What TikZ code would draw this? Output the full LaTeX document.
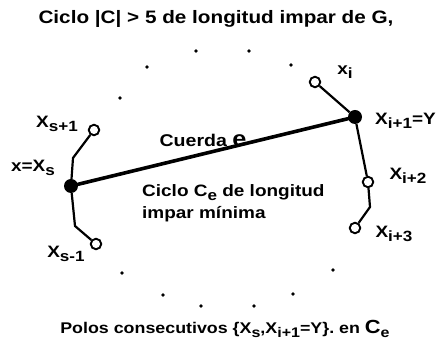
\documentclass[tikz,border=0pt]{standalone}
\usepackage{fontspec}
\setmainfont{Liberation Sans}[FakeStretch=1.15]
\usepackage{graphicx}
\usepackage{tikz}
\usetikzlibrary{positioning}
\newcommand{\idx}[1]{\raisebox{-0.45ex}{\scalebox{0.9}{#1}}}

\begin{document}
\begin{tikzpicture}[x=1pt,y=-1pt,
    pole/.style={circle,draw,line width=1.9pt,fill=white,minimum size=10.5pt,inner sep=0pt},
    hub/.style={circle,fill,minimum size=14pt,inner sep=0pt},
    edge/.style={line width=2.2pt,line join=round},
    chord/.style={line width=3.6pt,line cap=round},
    lbl/.style={font=\fontsize{16.5}{18}\selectfont\bfseries,inner sep=0pt},
    txt/.style={font=\fontsize{16.5}{22}\selectfont\bfseries,inner sep=0pt,align=left}]
        \useasboundingbox (0,0) rectangle (440,352);
        % title and footer
        \node[txt,font=\fontsize{18}{20}\selectfont\bfseries] (title) at (216,19) {Ciclo |C| > 5 de longitud impar de G,};
        \node[txt,font=\fontsize{15.5}{18}\selectfont\bfseries] (foot) at (225,329)
            {Polos consecutivos \{X\idx{s},X\idx{i+1}=Y\}. en {\fontsize{19}{20}\selectfont C}\idx{e}};
        % the rest of the cycle
        \foreach \p in {(196,51),(249,51),(147,67),(120,98),(291,65),(122,273),
                        (163,295),(201,306),(254,306),(293,294),(333,270)}
            \fill \p circle (1.8);
        % poles of the chord and their neighbours
        \node[hub] (xs) at (71,186) {};
        \node[hub] (xi1) at (355,117) {};
        \node[pole] (xs1) at (94,130) {};
        \node[pole] (xsm1) at (96,244) {};
        \node[pole] (xi) at (315,82) {};
        \node[pole] (xi2) at (368,182) {};
        \node[pole] (xi3) at (355,228) {};
        \draw[edge] (xs) -- ++(2,-28) -- (xs1);
        \draw[edge] (xs) -- ++(4,40) -- (xsm1);
        \draw[edge] (xi) -- (xi1);
        \draw[edge] (xi1) -- (xi2);
        \draw[edge] (xi2) -- ++(2,25) -- (xi3);
        \draw[chord] (xs) -- (xi1);
        % labels
        \node[lbl] (lxs1) at (57,124) {X\idx{s+1}};
        \node[lbl] (lxs) at (33,168) {x=X\idx{s}};
        \node[lbl] (lxsm1) at (66,254) {X\idx{s-1}};
        \node[lbl] (lxi) at (345,72) {x\idx{i}};
        \node[lbl,anchor=west] (lxi1) at (375,121) {X\idx{i+1}=Y};
        \node[lbl] (lxi2) at (408,176) {X\idx{i+2}};
        \node[lbl] (lxi3) at (394,234) {X\idx{i+3}};
        \node[txt,font=\fontsize{17}{18}\selectfont\bfseries] (cuerda) at (203,140)
            {Cuerda {\fontsize{22}{22}\selectfont e}};
        \node[txt,anchor=north west] (ciclo) at (142,184)
            {Ciclo C\idx{e} de longitud\\impar mínima};
      \end{tikzpicture}
\end{document}
